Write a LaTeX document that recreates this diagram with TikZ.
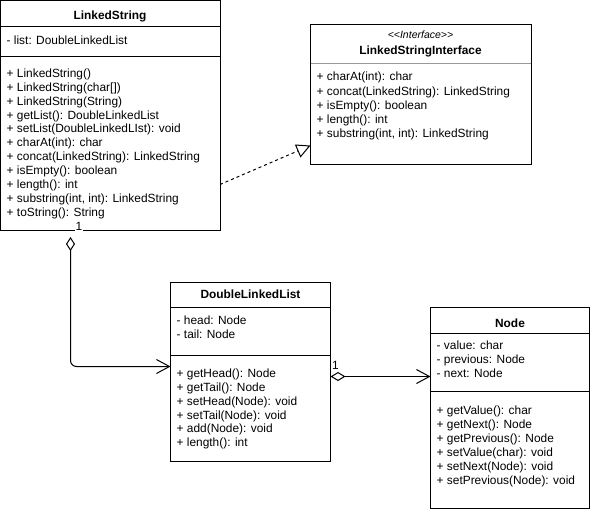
\documentclass[tikz,border=0pt]{standalone}
\usepackage{fontspec}
\setmainfont{Liberation Sans}
\usetikzlibrary{arrows.meta,calc}
\begin{document}
\begin{tikzpicture}[x=1pt,y=-1pt,
  box/.style={draw, line width=1pt, rectangle, anchor=north west, inner sep=0pt, outer sep=0pt},
  txt/.style={anchor=base west, inner sep=0pt, yshift=-1pt, font=\fontsize{11.9}{14}\selectfont},
  ttl/.style={anchor=base, inner sep=0pt, yshift=-0.5pt, font=\fontsize{11.9}{14}\selectfont\bfseries},
  stereo/.style={anchor=base, inner sep=0pt, font=\fontsize{10.5}{12}\selectfont\itshape},
  sepline/.style={line width=1pt},
  graysep/.style={line width=1pt, draw=black!40},
  mult/.style={inner sep=0.6pt, fill=white, font=\fontsize{11.9}{14}\selectfont},
  conn/.style={line width=1pt}
]
\useasboundingbox (0,0) rectangle (591,511);

% ---------- LinkedString ----------
\node[box, minimum width=219.5pt, minimum height=229.5pt] (ls) at (0.5,0.5) {};
\draw[sepline] (0.5,26.5) -- (220,26.5);
\draw[sepline] (0.5,56.5) -- (220,56.5);
\node[ttl] (lst) at (110,19) {LinkedString};
\node[txt] (lsa) at (6.5,44) {- list: DoubleLinkedList};
\node[txt] (lsm1) at (6.5,76.5) {+ LinkedString()};
\node[txt] (lsm2) at (6.5,90.4) {+ LinkedString(char[])};
\node[txt] (lsm3) at (6.5,104.2) {+ LinkedString(String)};
\node[txt] (lsm4) at (6.5,118.1) {+ getList(): DoubleLinkedList};
\node[txt] (lsm5) at (6.5,131.9) {+ setList(DoubleLinkedLIst): void};
\node[txt] (lsm6) at (6.5,145.8) {+ charAt(int): char};
\node[txt] (lsm7) at (6.5,159.6) {+ concat(LinkedString): LinkedString};
\node[txt] (lsm8) at (6.5,173.5) {+ isEmpty(): boolean};
\node[txt] (lsm9) at (6.5,187.3) {+ length(): int};
\node[txt] (lsm10) at (6.5,201.2) {+ substring(int, int): LinkedString};
\node[txt] (lsm11) at (6.5,215) {+ toString(): String};

% ---------- LinkedStringInterface ----------
\node[box, minimum width=220.5pt, minimum height=140pt] (lsi) at (310.5,24.5) {};
\draw[graysep] (311,63.5) -- (530.5,63.5);
\node[stereo] (lsis) at (420.5,39) {{<}{<}Interface{>}{>}};
\node[ttl] (lsit) at (420.5,54) {LinkedStringInterface};
\node[txt] (lsim1) at (316.5,80) {+ charAt(int): char};
\node[txt] (lsim2) at (316.5,94) {+ concat(LinkedString): LinkedString};
\node[txt] (lsim3) at (316.5,108) {+ isEmpty(): boolean};
\node[txt] (lsim4) at (316.5,122) {+ length(): int};
\node[txt] (lsim5) at (316.5,136) {+ substring(int, int): LinkedString};

% ---------- DoubleLinkedList ----------
\node[box, minimum width=160pt, minimum height=179pt] (dll) at (170.5,282) {};
\draw[sepline] (170.5,307.5) -- (330.5,307.5);
\draw[sepline] (170.5,355.5) -- (330.5,355.5);
\node[ttl] (dllt) at (250.5,298) {DoubleLinkedList};
\node[txt] (dlla1) at (176.5,323) {- head: Node};
\node[txt] (dlla2) at (176.5,337) {- tail: Node};
\node[txt] (dllm1) at (176.5,376.3) {+ getHead(): Node};
\node[txt] (dllm2) at (176.5,390.2) {+ getTail(): Node};
\node[txt] (dllm3) at (176.5,404.1) {+ setHead(Node): void};
\node[txt] (dllm4) at (176.5,418) {+ setTail(Node): void};
\node[txt] (dllm5) at (176.5,431.9) {+ add(Node): void};
\node[txt] (dllm6) at (176.5,445.8) {+ length(): int};

% ---------- Node ----------
\node[box, minimum width=158.5pt, minimum height=200.5pt] (nd) at (430.5,307.5) {};
\draw[sepline] (430.5,333.5) -- (589,333.5);
\draw[sepline] (430.5,391.5) -- (589,391.5);
\node[ttl] (ndt) at (510,326.5) {Node};
\node[txt] (nda1) at (436.5,348) {- value: char};
\node[txt] (nda2) at (436.5,362) {- previous: Node};
\node[txt] (nda3) at (436.5,376) {- next: Node};
\node[txt] (ndm1) at (436.5,413) {+ getValue(): char};
\node[txt] (ndm2) at (436.5,427) {+ getNext(): Node};
\node[txt] (ndm3) at (436.5,441) {+ getPrevious(): Node};
\node[txt] (ndm4) at (436.5,455) {+ setValue(char): void};
\node[txt] (ndm5) at (436.5,469) {+ setNext(Node): void};
\node[txt] (ndm6) at (436.5,483) {+ setPrevious(Node): void};

% ---------- connectors ----------
% realization LinkedString -> LinkedStringInterface
\coordinate (r1) at ($(ls.north east)+(0,184)$);
\coordinate (r2) at ($(lsi.north west)+(0,121)$);
\draw[conn, dash pattern=on 3pt off 3pt, -{Triangle[open,length=14pt,width=14pt,line width=1pt]}] (r1) -- (r2);

% aggregation LinkedString <>-- DoubleLinkedList
\coordinate (a1) at (70.5,237);
\coordinate (a2) at ($(dll.north west)+(0,84.5)$);
\draw[conn, rounded corners=6pt, {Diamond[open,length=14pt,width=9pt,line width=1pt]}-{Straight Barb[length=13pt,width=14pt,line width=1pt]}] (a1) |- (a2);
\node[mult] (m1) at (79,226.5) {1};

% aggregation DoubleLinkedList <>-- Node
\coordinate (b1) at ($(dll.north east)+(0,94.5)$);
\coordinate (b2) at (nd.west |- b1);
\draw[conn, {Diamond[open,length=15pt,width=9pt,line width=1pt]}-{Straight Barb[length=13pt,width=14pt,line width=1pt]}] (b1) -- (b2);
\node[mult, fill=none] (m2) at (335.5,365) {1};
\end{tikzpicture}
\end{document}
